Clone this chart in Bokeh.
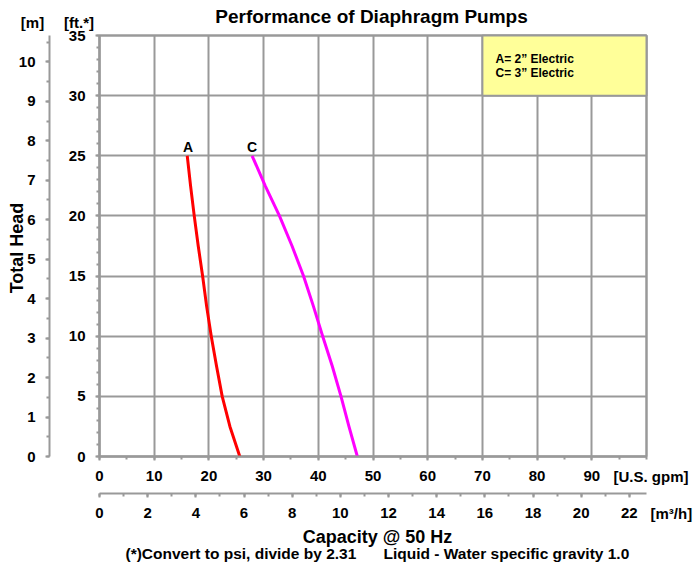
import numpy as np
from bokeh.plotting import figure
from bokeh.models import Range1d, LinearAxis, FixedTicker, Label, BoxAnnotation
from bokeh.embed import file_html
from bokeh.resources import INLINE

# ---------------- data ----------------
chart_title = "Performance of Diaphragm Pumps"
head_ft = [25, 22.5, 20, 17.5, 15, 12.5, 10, 7.5, 5, 2.5, 0]
pump_a_gpm = [16.04, 16.65, 17.32, 18.05, 18.85, 19.58, 20.43, 21.4, 22.43, 23.84, 25.65]
pump_c_gpm = [27.9, 30.3, 32.9, 35.2, 37.3, 39.1, 40.8, 42.56, 44.15, 45.6, 47.14]
ft_ticks = [0, 5, 10, 15, 20, 25, 30, 35]
ft_minor = list(range(0, 36))
m_ticks = list(range(0, 11))
m_minor = [i * 0.5 for i in range(0, 22)]
gpm_ticks = [0, 10, 20, 30, 40, 50, 60, 70, 80, 90]
gpm_minor = list(range(0, 101, 5))
gpm_grid = list(range(0, 101, 10))
m3h_ticks = list(range(0, 23, 2))
m3h_minor = list(range(0, 23))
legend_lines = ["A= 2\u201d Electric", "C= 3\u201d Electric"]
FT_PER_M = 3.28084
GPM_PER_M3H = 4.40287
GPM_MAX = 100
FT_MAX = 35

# ---------------- layout (pixels) ----------------
W, H = 698, 568
PX_LEFT, PX_RIGHT, PX_TOP, PX_BOTTOM = 99, 646, 35, 456
PX_PER_GPM = (PX_RIGHT - PX_LEFT) / GPM_MAX
PX_PER_FT = (PX_BOTTOM - PX_TOP) / FT_MAX


def gx(px):
    return (px - PX_LEFT) / PX_PER_GPM


def fy(py):
    return (PX_BOTTOM - py) / PX_PER_FT


GRAY = "#999999"
FONT = "Liberation Sans"

p = figure(width=W, height=H, title=None,
           x_range=Range1d(gx(0), gx(W)), y_range=Range1d(fy(H), fy(0)),
           output_backend="svg", toolbar_location=None,
           min_border=0, min_border_left=0, min_border_right=0,
           min_border_top=0, min_border_bottom=0)
p.background_fill_color = "white"
p.border_fill_color = "white"
p.outline_line_color = None

p.extra_y_ranges = {"m": Range1d(fy(H) / FT_PER_M, fy(0) / FT_PER_M)}
p.extra_x_ranges = {"m3h": Range1d(gx(0) / GPM_PER_M3H, gx(W) / GPM_PER_M3H)}


def style(ax, standoff):
    ax.axis_line_color = GRAY
    ax.axis_line_width = 2
    ax.major_tick_line_color = GRAY
    ax.major_tick_line_width = 2
    ax.major_tick_out = 4
    ax.major_tick_in = 0
    ax.minor_tick_line_color = GRAY
    ax.minor_tick_line_width = 2
    ax.minor_tick_out = 3
    ax.minor_tick_in = 0
    ax.major_label_text_font = FONT
    ax.major_label_text_font_style = "bold"
    ax.major_label_text_font_size = "15px"
    ax.major_label_text_color = "black"
    ax.major_label_standoff = standoff


# ft axis (default left)
ft_axis = p.yaxis[0]
ft_axis.ticker = FixedTicker(ticks=ft_ticks, minor_ticks=ft_minor)
ft_axis.fixed_location = 0
ft_axis.bounds = (0, FT_MAX)
style(ft_axis, 10)

# m axis
m_axis = LinearAxis(y_range_name="m",
                    ticker=FixedTicker(ticks=m_ticks, minor_ticks=m_minor))
m_axis.fixed_location = gx(49)
m_axis.bounds = (0, FT_MAX / FT_PER_M)
style(m_axis, 10)
p.add_layout(m_axis, "left")

# gpm axis (default bottom)
gpm_axis = p.xaxis[0]
gpm_axis.ticker = FixedTicker(ticks=gpm_ticks, minor_ticks=gpm_minor)
gpm_axis.fixed_location = 0
gpm_axis.bounds = (0, GPM_MAX)
style(gpm_axis, 10)

# m3/h axis
m3h_axis = LinearAxis(x_range_name="m3h",
                      ticker=FixedTicker(ticks=m3h_ticks, minor_ticks=m3h_minor))
m3h_axis.fixed_location = fy(493)
m3h_axis.bounds = (0, GPM_MAX / GPM_PER_M3H)
style(m3h_axis, 10)
p.add_layout(m3h_axis, "below")

# grid
p.xgrid[0].ticker = FixedTicker(ticks=gpm_grid)
p.ygrid[0].ticker = FixedTicker(ticks=ft_ticks)
p.xgrid[0].bounds = (0, GPM_MAX)
p.ygrid[0].bounds = (0, FT_MAX)
p.xgrid[0].cross_bounds = (0, FT_MAX)
p.ygrid[0].cross_bounds = (0, GPM_MAX)
for g in (p.xgrid[0], p.ygrid[0]):
    g.grid_line_color = GRAY
    g.grid_line_width = 2

# plot border
p.add_layout(BoxAnnotation(left=0, right=GPM_MAX, bottom=0, top=FT_MAX,
                           fill_color=None, line_color=GRAY, line_width=2,
                           line_alpha=1, level="underlay"))

# curves
p.line(pump_a_gpm, head_ft, line_color="#FF0000", line_width=3, line_join="round")
p.line(pump_c_gpm, head_ft, line_color="#FF00FF", line_width=3, line_join="round")

# legend box
p.add_layout(BoxAnnotation(left=70, right=GPM_MAX, bottom=30, top=FT_MAX,
                           fill_color="#FFFF99", fill_alpha=1,
                           line_color=GRAY, line_width=2, line_alpha=1))


def lab(text, x, y, size, align="center", baseline="middle", angle=0):
    p.add_layout(Label(x=x, y=y, text=text, text_font=FONT,
                       text_font_style="bold", text_font_size=size,
                       text_align=align, text_baseline=baseline,
                       text_color="black", angle=angle))


lab(legend_lines[0], gx(495), fy(58), "12px", align="left")
lab(legend_lines[1], gx(495), fy(72), "12px", align="left")

# curve labels
lab("A", pump_a_gpm[0] + 0.15, head_ft[0] + 0.7, "14px")
lab("C", pump_c_gpm[0], head_ft[0] + 0.7, "14px")

# surrounding texts
lab(chart_title, gx(371), fy(16), "19px")
lab("[m]", gx(32), fy(22), "15px")
lab("[ft.*]", gx(78.5), fy(22), "15px")
lab("Total Head", gx(16), fy(247.5), "18px", angle=np.pi / 2)
lab("[U.S. gpm]", gx(613), fy(476), "15px", align="left")
lab("[m\u00b3/h]", gx(650), fy(513), "15px", align="left")
lab("Capacity @ 50 Hz", gx(377), fy(536), "18px")
lab("(*)Convert to psi, divide by 2.31", gx(125), fy(553), "15.5px", align="left")
lab("Liquid - Water specific gravity 1.0", gx(383), fy(553), "15.5px", align="left")

open("out.html", "w").write(file_html(p, INLINE))
